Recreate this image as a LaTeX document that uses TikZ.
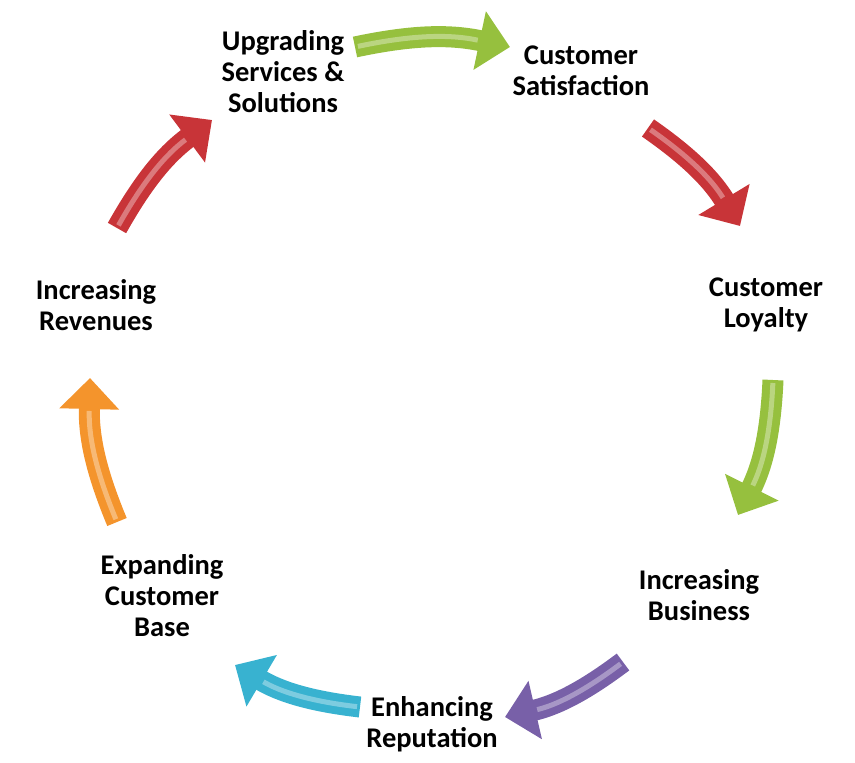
\documentclass[tikz,border=0pt]{standalone}
\usepackage{fontspec}
\setmainfont{Carlito}
\usetikzlibrary{arrows.meta}
\definecolor{leafgreen}{RGB}{150,192,62}
\definecolor{brickred}{RGB}{200,52,56}
\definecolor{lilac}{RGB}{120,96,168}
\definecolor{skyblue}{RGB}{56,178,208}
\definecolor{tangerine}{RGB}{244,148,44}
\tikzset{
  steplabel/.style={align=center,font=\bfseries\fontsize{28.5}{31}\selectfont},
  flow/.style={line width=21pt,draw=#1,
    -{Triangle[width=58pt,length=31pt]}},
  gloss/.style={line width=5pt,draw=white,opacity=0.35,shorten >=33pt,shorten <=3pt}
}
\begin{document}
\begin{tikzpicture}[x=1pt,y=1pt]
  \useasboundingbox (0,0) rectangle (855,-763);
  % labels
  \node[steplabel] (upgrade) at (283,-72) {Upgrading\\Services \&\\Solutions};
  \node[steplabel] (satisf) at (581,-71) {Customer\\Satisfaction};
  \node[steplabel] (loyal) at (766,-305) {Customer\\Loyalty};
  \node[steplabel] (business) at (699,-595) {Increasing\\Business};
  \node[steplabel] (reput) at (432,-724) {Enhancing\\Reputation};
  \node[steplabel] (expand) at (162,-596) {Expanding\\Customer\\Base};
  \node[steplabel] (revenue) at (96,-305) {Increasing\\Revenues};
  % arrow ends
  \coordinate (g1s) at (355,-47);  \coordinate (g1e) at (510,-47);
  \coordinate (r1s) at (648,-128); \coordinate (r1e) at (740,-226);
  \coordinate (g2s) at (773,-380); \coordinate (g2e) at (738,-515);
  \coordinate (p1s) at (623,-662); \coordinate (p1e) at (505,-717);
  \coordinate (c1s) at (360,-707); \coordinate (c1e) at (235,-665);
  \coordinate (o1s) at (117,-522); \coordinate (o1e) at (90,-378);
  \coordinate (r2s) at (117,-228); \coordinate (r2e) at (212,-120);
  % arrows
  \draw[flow=leafgreen] (g1s) to[bend left=12] (g1e);
  \draw[flow=brickred] (r1s) to[bend left=12] (r1e);
  \draw[flow=leafgreen] (g2s) to[bend left=12] (g2e);
  \draw[flow=lilac] (p1s) to[bend left=12] (p1e);
  \draw[flow=skyblue] (c1s) to[bend left=12] (c1e);
  \draw[flow=tangerine] (o1s) to[bend left=12] (o1e);
  \draw[flow=brickred] (r2s) to[bend left=12] (r2e);
  % highlights
  \draw[gloss] (g1s) to[bend left=12] (g1e);
  \draw[gloss] (r1s) to[bend left=12] (r1e);
  \draw[gloss] (g2s) to[bend left=12] (g2e);
  \draw[gloss] (p1s) to[bend left=12] (p1e);
  \draw[gloss] (c1s) to[bend left=12] (c1e);
  \draw[gloss] (o1s) to[bend left=12] (o1e);
  \draw[gloss] (r2s) to[bend left=12] (r2e);
\end{tikzpicture}
\end{document}
